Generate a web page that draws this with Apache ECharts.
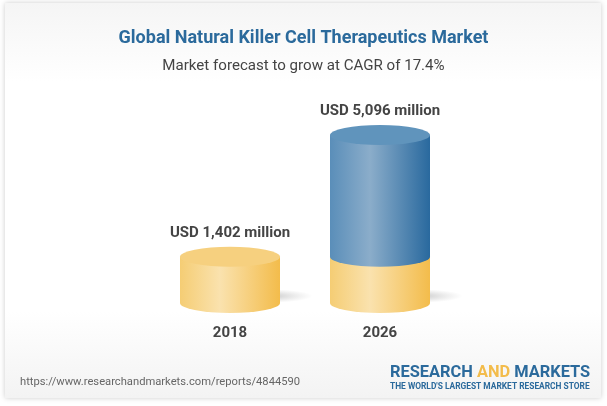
<!DOCTYPE html>
<html>
<head>
<meta charset="utf-8">
<style>
html, body { margin: 0; padding: 0; background: #fff; }
#grafico { width: 607px; height: 406px; }
</style>
<script src="https://cdn.jsdelivr.net/npm/echarts@6/dist/echarts.min.js"></script>
</head>
<body>
<div id="grafico"></div>
<script>
// dados
const anos = ['2018', '2026'];
const baseAmarela = [1402, 1402];
const parteAzul = [null, 3694];
const topoAmarelo = [1402, null];
const topoAzul = [null, 5096];
const baseAzul = [null, 1402];
const zeros = [0, 0];
const rotulos = ['USD 1,402 million', 'USD 5,096 million'];

const fonte = 'Roboto';
const grad = (a, b, c) => new echarts.graphic.LinearGradient(0, 0, 1, 0, [
    { offset: 0, color: a },
    { offset: 0.4, color: b },
    { offset: 1, color: c }
]);
const amarelo = () => grad('#f5cd74', '#fae2ae', '#f3bc4b');
const azul = () => grad('#5a8eb9', '#8badca', '#29699e');

const comum = { barGap: '-100%', barWidth: 100, silent: true };
const rotuloTopo = {
    show: true,
    position: 'top',
    distance: 6,
    fontFamily: fonte,
    fontWeight: 'bold',
    fontSize: 15,
    color: '#444444',
    formatter: p => rotulos[p.dataIndex]
};

const grafico = echarts.init(document.getElementById('grafico'));
grafico.setOption({
    animation: false,
    title: [
        {
            text: 'Global Natural Killer Cell Therapeutics Market',
            left: 'center', top: 24,
            textStyle: { fontFamily: fonte, fontWeight: 'bold', fontSize: 18, color: '#2b6a9c' }
        },
        {
            text: 'Market forecast to grow at CAGR of 17.4%',
            left: 'center', top: 54,
            textStyle: { fontFamily: fonte, fontWeight: 'normal', fontSize: 15.1, color: '#444444' }
        }
    ],
    grid: { left: 155, width: 300, top: 135, height: 168 },
    xAxis: {
        type: 'category',
        data: anos,
        axisLine: { show: false },
        axisTick: { show: false },
        axisLabel: { margin: 23, fontFamily: fonte, fontWeight: 'bold', fontSize: 15, color: '#444444' }
    },
    yAxis: { type: 'value', min: 0, max: 5096, show: false, splitLine: { show: false } },
    series: [
        // sombra na base
        {
            ...comum, type: 'pictorialBar', data: zeros, symbol: 'circle',
            symbolSize: [96, 14], symbolPosition: 'start', symbolOffset: ['36%', 0], z: 1,
            itemStyle: {
                color: new echarts.graphic.RadialGradient(0.5, 0.5, 0.5, [
                    { offset: 0, color: 'rgba(120,120,120,0.45)' },
                    { offset: 1, color: 'rgba(150,150,150,0)' }
                ])
            }
        },
        {
            ...comum, type: 'pictorialBar', data: zeros, symbol: 'circle',
            symbolSize: [100, 20], symbolPosition: 'start', symbolOffset: [0, '50%'], z: 2,
            itemStyle: { color: amarelo() }
        },
        { ...comum, type: 'bar', stack: 'total', data: baseAmarela, z: 3, itemStyle: { color: amarelo() } },
        {
            ...comum, type: 'pictorialBar', data: baseAzul, symbol: 'circle',
            symbolSize: [100, 20], symbolPosition: 'end', symbolOffset: [0, '-50%'], z: 4,
            itemStyle: { color: azul() }
        },
        { ...comum, type: 'bar', stack: 'total', data: parteAzul, z: 4, itemStyle: { color: azul() } },
        {
            ...comum, type: 'pictorialBar', data: topoAmarelo, symbol: 'circle',
            symbolSize: [100, 20], symbolPosition: 'end', symbolOffset: [0, '-50%'], z: 5,
            itemStyle: { color: '#f6d07f' }, label: rotuloTopo
        },
        {
            ...comum, type: 'pictorialBar', data: topoAzul, symbol: 'circle',
            symbolSize: [100, 20], symbolPosition: 'end', symbolOffset: [0, '-50%'], z: 5,
            itemStyle: { color: '#6094bc' }, label: rotuloTopo
        }
    ],
    graphic: [
        // cartão de fundo
        {
            type: 'rect', z: -10, silent: true,
            shape: { x: 5, y: 3, width: 596, height: 395 },
            style: {
                fill: new echarts.graphic.LinearGradient(0, 0, 0, 1, [
                    { offset: 0, color: '#f5f5f5' },
                    { offset: 0.2, color: '#ffffff' },
                    { offset: 0.78, color: '#ffffff' },
                    { offset: 1, color: '#f3f3f3' }
                ]),
                shadowBlur: 5,
                shadowColor: 'rgba(0,0,0,0.2)'
            }
        },
        {
            type: 'text', left: 20, top: 377, silent: true,
            style: { text: 'https://www.researchandmarkets.com/reports/4844590', font: '11.2px Roboto', fill: '#666666' }
        },
        {
            type: 'text', left: 390, top: 365, silent: true,
            style: {
                text: '{a|RESEARCH }{b|AND }{a|MARKETS}',
                rich: {
                    a: { fontFamily: fonte, fontWeight: 'bold', fontSize: 16.4, fill: '#2b6a9c' },
                    b: { fontFamily: fonte, fontWeight: 'bold', fontSize: 16.4, fill: '#f3bc4b' }
                }
            }
        },
        {
            type: 'text', left: 390, top: 383, silent: true,
            style: { text: "THE WORLD'S LARGEST MARKET RESEARCH STORE", font: 'bold 8.4px Roboto', fill: '#2b6a9c' }
        }
    ]
});
</script>
</body>
</html>
